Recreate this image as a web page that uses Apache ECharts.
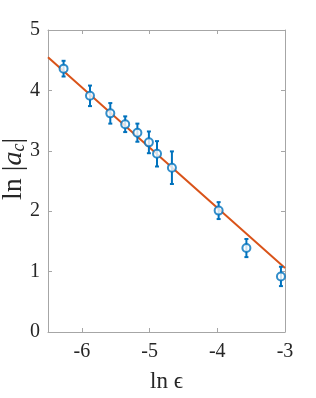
<!DOCTYPE html>
<html><head><meta charset="utf-8">
<script src="https://cdn.jsdelivr.net/npm/echarts@6/dist/echarts.min.js"></script>
<style>html,body{margin:0;padding:0;background:#fff}#c{width:316px;height:398px}</style>
</head><body><div id="c"></div>
<script>
const lnEps = [-6.27, -5.88, -5.58, -5.36, -5.18, -5.01, -4.89, -4.67, -3.98, -3.57, -3.06];
const lnAc  = [4.36, 3.91, 3.62, 3.44, 3.30, 3.14, 2.95, 2.72, 2.01, 1.39, 0.92];
const errAc = [0.13, 0.17, 0.17, 0.13, 0.15, 0.18, 0.21, 0.27, 0.14, 0.15, 0.16];
const fitX = [-6.5, -3];
const fitY = [4.55, 1.06];
const xTicks = [-6, -5, -4, -3];
const yTicks = [0, 1, 2, 3, 4, 5];

const blue = '#0072BD', orange = '#D95319', axisCol = '#A6A6A6', txt = '#262626';
const font = '"Liberation Serif", "DejaVu Serif", serif';

const pts = lnEps.map((x, i) => [x, lnAc[i]]);
const errData = lnEps.map((x, i) => [x, lnAc[i] - errAc[i], lnAc[i] + errAc[i]]);
const fitData = fitX.map((x, i) => [x, fitY[i]]);

const chart = echarts.init(document.getElementById('c'), null, {renderer: 'canvas'});
const axCommon = {
  axisLine: {show: true, onZero: false, lineStyle: {color: axisCol, width: 1}},
  axisTick: {show: true, inside: true, length: 4, lineStyle: {color: axisCol}},
  splitLine: {show: false},
  axisLabel: {color: txt, fontFamily: font, fontSize: 20}
};
chart.setOption({
  animation: false,
  grid: {left: 48, right: 31, top: 30, bottom: 61, show: false},
  xAxis: [
    Object.assign({}, axCommon, {
      type: 'value', min: -6.5, max: -3, interval: 0.5,
      axisLabel: Object.assign({}, axCommon.axisLabel, {margin: 10,
        formatter: v => xTicks.includes(v) ? String(v) : ''}),
      axisTick: Object.assign({}, axCommon.axisTick, {customValues: xTicks}),
      name: '{a|ln }{b|ϵ}', nameLocation: 'middle', nameGap: 38,
      nameTextStyle: {rich: {a: {fontFamily: font, fontSize: 23, color: txt}, b: {fontFamily: font, fontSize: 23, color: txt}}}
    }),
    Object.assign({}, axCommon, {
      type: 'value', position: 'top', min: -6.5, max: -3, interval: 0.5,
      axisLabel: {show: false},
      axisTick: Object.assign({}, axCommon.axisTick, {customValues: xTicks})
    })
  ],
  yAxis: [
    Object.assign({}, axCommon, {
      type: 'value', min: 0, max: 5, interval: 1,
      axisLabel: Object.assign({}, axCommon.axisLabel, {margin: 8})
    }),
    Object.assign({}, axCommon, {
      type: 'value', position: 'right', min: 0, max: 5, interval: 1,
      axisLabel: {show: false}
    })
  ],
  graphic: [{
    type: 'text', x: 14, y: 169, rotation: Math.PI / 2,
    style: {
      text: '{a|ln }{a||}{i|a}{s|c}{a||}', align: 'center', verticalAlign: 'middle',
      rich: {
        a: {fontFamily: font, fontSize: 28, fill: txt, color: txt},
        i: {fontFamily: font, fontSize: 28, fontStyle: 'italic', fill: txt, color: txt},
        s: {fontFamily: font, fontSize: 18, fontStyle: 'italic', fill: txt, color: txt, verticalAlign: 'bottom', padding: [10, 0, 0, 0]}
      }
    }
  }],
  series: [
    {
      type: 'line', data: fitData, showSymbol: false, symbol: 'none',
      lineStyle: {color: orange, width: 2}, z: 3
    },
    {
      type: 'custom', data: errData, z: 4,
      renderItem: (params, api) => {
        const x = api.value(0);
        const lo = api.coord([x, api.value(1)]);
        const hi = api.coord([x, api.value(2)]);
        const cap = 2;
        const st = {stroke: blue, lineWidth: 2};
        return {type: 'group', children: [
          {type: 'line', shape: {x1: lo[0], y1: lo[1], x2: hi[0], y2: hi[1]}, style: st},
          {type: 'line', shape: {x1: lo[0] - cap, y1: lo[1], x2: lo[0] + cap, y2: lo[1]}, style: st},
          {type: 'line', shape: {x1: hi[0] - cap, y1: hi[1], x2: hi[0] + cap, y2: hi[1]}, style: st}
        ]};
      }
    },
    {
      type: 'scatter', data: pts, symbol: 'emptyCircle', symbolSize: 8, z: 5,
      itemStyle: {color: blue, borderColor: blue, borderWidth: 2}
    }
  ]
});
</script></body></html>
